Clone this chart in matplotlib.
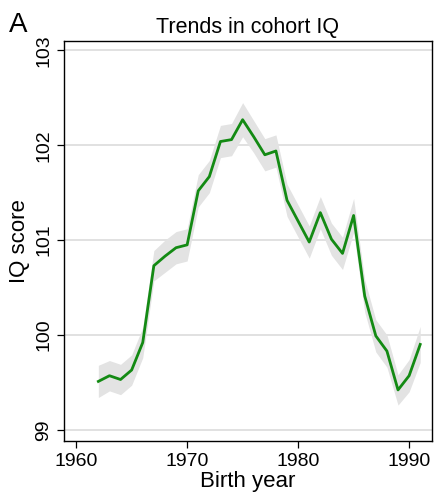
import matplotlib
matplotlib.use("Agg")
import matplotlib.pyplot as plt
import numpy as np

plt.rcParams['font.family'] = ['Liberation Sans', 'DejaVu Sans']

# cohort mean IQ by birth year
years = list(range(1962, 1992))
iq = [99.51, 99.57, 99.53, 99.63, 99.92, 100.73, 100.83, 100.92, 100.95, 101.52,
      101.67, 102.04, 102.06, 102.27, 102.09, 101.90, 101.94, 101.42, 101.20, 100.98,
      101.29, 101.01, 100.86, 101.26, 100.41, 99.99, 99.83, 99.42, 99.57, 99.90]
# half width of the grey confidence band
ci = [0.17, 0.16, 0.16, 0.16, 0.16, 0.16, 0.17, 0.17, 0.17, 0.17,
      0.17, 0.17, 0.17, 0.18, 0.17, 0.17, 0.17, 0.17, 0.17, 0.17,
      0.17, 0.17, 0.17, 0.18, 0.17, 0.17, 0.17, 0.16, 0.17, 0.19]

x_ticks = [1960, 1970, 1980, 1990]
y_ticks = [99, 100, 101, 102, 103]

iq = np.array(iq)
ci = np.array(ci)

fig = plt.figure(figsize=(4.38, 4.94), dpi=100)
ax = fig.add_axes([0.146, 0.107, 0.840, 0.810])

ax.fill_between(years, iq - ci, iq + ci, color='#e3e3e3', lw=0, zorder=1)
ax.plot(years, iq, color='#138a13', lw=2.0, zorder=3)

ax.set_xlim(1958.9, 1992.05)
ax.set_ylim(98.88, 103.1)
ax.set_xticks(x_ticks)
ax.set_yticks(y_ticks)
ax.yaxis.grid(True, color='#dcdcdc', lw=1.2, zorder=0)
ax.set_axisbelow(True)

ax.tick_params(direction='out', length=5, width=0.9, labelsize=14, color='black')
for lab in ax.get_yticklabels():
    lab.set_rotation(90)
    lab.set_va('center')

for sp in ax.spines.values():
    sp.set_linewidth(1.0)

ax.set_title("Trends in cohort IQ", fontsize=15.5, pad=6)
ax.set_xlabel("Birth year", fontsize=16, labelpad=1)
ax.set_ylabel("IQ score", fontsize=16, labelpad=4)

fig.text(0.02, 0.935, "A", fontsize=20)

fig.savefig("out.png", dpi=100)
